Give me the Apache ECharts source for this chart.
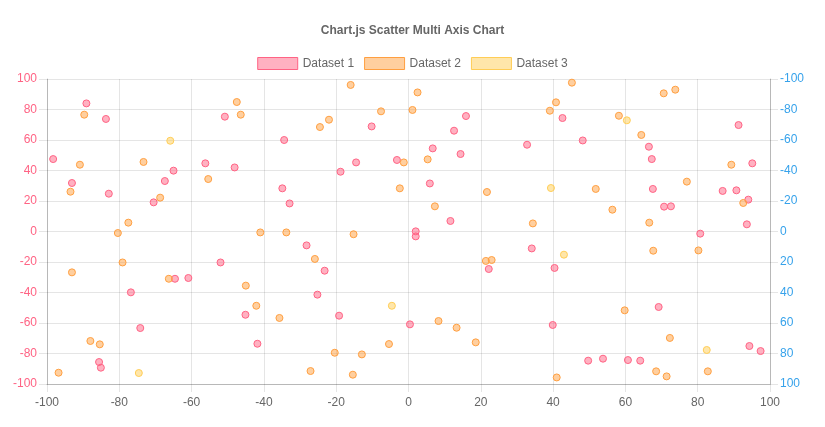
<!DOCTYPE html>
<html>
<head>
<meta charset="utf-8">
<title>Scatter Multi Axis</title>
<script src="https://cdn.jsdelivr.net/npm/echarts@6/dist/echarts.min.js"></script>
<style>
  html, body { margin: 0; padding: 0; background: #fff; }
  #chart { width: 825px; height: 427px; }
</style>
</head>
<body>
<div id="chart"></div>
<script>
var titleText = "Chart.js Scatter Multi Axis Chart";
var seriesNames = ["Dataset 1", "Dataset 2", "Dataset 3"];
var xTicks = { min: -100, max: 100, step: 20 };

// Dataset 1 -> left axis
var dataset1 = [
  [-89.1, 84.0], [-83.7, 73.8], [-50.8, 75.3], [-98.3, 47.5], [-56.2, 44.7],
  [-93.1, 31.8], [-65.0, 39.9], [-67.4, 33.1], [-82.9, 24.8], [-70.5, 19.1],
  [-52.0, -20.3], [-64.6, -31.0], [-60.9, -30.5], [-76.8, -39.9], [-74.2, -63.3],
  [-85.6, -85.6], [-85.1, -89.3], [-10.2, 68.9], [-34.4, 60.0], [-48.1, 42.0],
  [-14.5, 45.3], [-3.2, 46.9], [-18.8, 39.2], [-34.9, 28.3], [-32.9, 18.4],
  [-28.2, -9.1], [-23.2, -25.7], [-25.2, -41.4], [-45.1, -54.6], [-19.2, -55.2],
  [0.4, -60.9], [-41.8, -73.6], [15.9, 75.7], [12.6, 66.1], [6.7, 54.5],
  [14.4, 50.8], [5.9, 31.5], [11.6, 6.9], [2.0, 0.1], [2.0, -3.2],
  [32.8, 56.9], [42.6, 74.4], [48.2, 59.7], [34.1, -11.1], [22.2, -24.6],
  [40.4, -23.9], [39.9, -61.3], [49.7, -84.7], [91.3, 69.8], [66.5, 55.6],
  [67.3, 47.5], [95.1, 44.7], [67.6, 27.9], [86.9, 26.6], [90.7, 27.0],
  [94.0, 20.9], [70.7, 16.3], [72.6, 16.5], [93.6, 4.7], [80.7, -1.4],
  [69.2, -49.5], [94.3, -75.1], [97.4, -78.4], [53.8, -83.4], [60.7, -84.3],
  [64.1, -84.7]
];

// Dataset 2 -> right axis (reversed)
var dataset2 = [
  [-89.7, -76.6], [-90.9, -43.8], [-73.3, -45.6], [-55.4, -34.4], [-93.5, -26.1],
  [-68.7, -22.2], [-77.5, -5.8], [-80.4, 1.0], [-79.1, 20.3], [-93.1, 26.8],
  [-66.3, 31.0], [-88.0, 71.8], [-85.4, 74.0], [-96.8, 92.6], [-47.5, -84.9],
  [-16.0, -96.1], [-46.4, -76.6], [-7.6, -78.8], [-22.0, -73.3], [-24.5, -68.5],
  [-1.3, -45.3], [-2.4, -28.3], [-41.0, 0.6], [-33.8, 0.6], [-15.2, 1.8],
  [-25.9, 18.0], [-45.0, 35.5], [-42.1, 48.7], [-35.7, 56.7], [-5.4, 73.8],
  [-20.4, 79.5], [-12.9, 80.6], [-27.1, 91.5], [-15.4, 93.9], [2.5, -91.2],
  [1.1, -79.7], [5.3, -47.3], [7.3, -16.5], [21.7, -25.9], [45.2, -97.6],
  [40.8, -84.7], [39.1, -79.2], [34.4, -5.3], [21.4, 19.3], [23.0, 18.7],
  [8.3, 58.7], [13.3, 63.1], [18.6, 72.7], [41.0, 95.7], [70.6, -90.6],
  [73.8, -93.0], [58.2, -75.9], [64.4, -63.3], [89.3, -43.8], [51.8, -27.9],
  [77.0, -32.7], [92.6, -18.7], [56.4, -14.3], [66.6, -5.8], [67.7, 12.6],
  [80.2, 12.4], [59.8, 51.7], [72.3, 69.8], [68.5, 91.7], [71.4, 95.0],
  [82.8, 91.7]
];

// Dataset 3 -> right axis (reversed)
var dataset3 = [
  [-65.9, -59.5], [-74.6, 92.8], [-4.6, 48.7], [39.4, -28.5], [43.0, 15.2],
  [60.4, -72.9], [82.5, 77.7]
];

function initChart() {
  var dom = document.getElementById("chart");
  var myChart = echarts.init(dom, null, { renderer: "canvas" });
  var font = "'Helvetica Neue', Helvetica, Arial, 'Liberation Sans', sans-serif";
  var gridColor = "rgba(0,0,0,0.1)";
  var borderColor = "rgba(0,0,0,0.2)";
  var colors = [
    { fill: "rgba(255,99,132,0.5)", line: "rgb(255,99,132)" },
    { fill: "rgba(255,159,64,0.5)", line: "rgb(255,159,64)" },
    { fill: "rgba(255,205,86,0.5)", line: "rgb(255,205,86)" }
  ];

  var legendData = seriesNames.map(function (name, i) {
    return {
      name: name,
      icon: "rect",
      itemStyle: { color: colors[i].fill, borderColor: colors[i].line, borderWidth: 1 }
    };
  });

  var makeSeries = function (i, data, yIndex) {
    return {
      name: seriesNames[i],
      type: "scatter",
      yAxisIndex: yIndex,
      symbol: "circle",
      symbolSize: 7,
      data: data,
      itemStyle: { color: colors[i].fill, borderColor: colors[i].line, borderWidth: 1, opacity: 1 },
      emphasis: { disabled: true }
    };
  };

  var option = {
    animation: false,
    textStyle: { fontFamily: font },
    title: {
      text: titleText,
      left: "center",
      top: 20,
      textStyle: { fontSize: 12, fontWeight: "bold", color: "#666", fontFamily: font }
    },
    legend: {
      top: 52,
      left: "center",
      itemWidth: 40,
      itemHeight: 12,
      itemGap: 10,
      textStyle: { fontSize: 12, color: "#666", fontFamily: font },
      data: legendData
    },
    grid: {
      left: 47,
      right: 55,
      top: 79,
      bottom: 43,
      containLabel: false
    },
    xAxis: {
      type: "value",
      min: xTicks.min,
      max: xTicks.max,
      interval: xTicks.step,
      axisLine: { show: true, onZero: false, lineStyle: { color: borderColor } },
      axisTick: { show: true, length: 8, lineStyle: { color: gridColor } },
      axisLabel: { color: "#666", fontSize: 12, margin: 13, fontFamily: font },
      splitLine: { show: true, lineStyle: { color: gridColor } }
    },
    yAxis: [
      {
        type: "value",
        position: "left",
        min: -100,
        max: 100,
        interval: 20,
        axisLine: { show: true, onZero: false, lineStyle: { color: borderColor } },
        axisTick: { show: true, length: 8, lineStyle: { color: gridColor } },
        axisLabel: { color: "rgb(255,99,132)", fontSize: 12, margin: 10, fontFamily: font },
        splitLine: { show: true, lineStyle: { color: gridColor } }
      },
      {
        type: "value",
        position: "right",
        inverse: true,
        min: -100,
        max: 100,
        interval: 20,
        axisLine: { show: true, onZero: false, lineStyle: { color: borderColor } },
        axisTick: { show: true, length: 8, lineStyle: { color: gridColor } },
        axisLabel: { color: "rgb(54,162,235)", fontSize: 12, margin: 10, fontFamily: font },
        splitLine: { show: false }
      }
    ],
    series: [
      makeSeries(0, dataset1, 0),
      makeSeries(1, dataset2, 1),
      makeSeries(2, dataset3, 1)
    ]
  };
  myChart.setOption(option, true);
}

initChart();
</script>
</body>
</html>
